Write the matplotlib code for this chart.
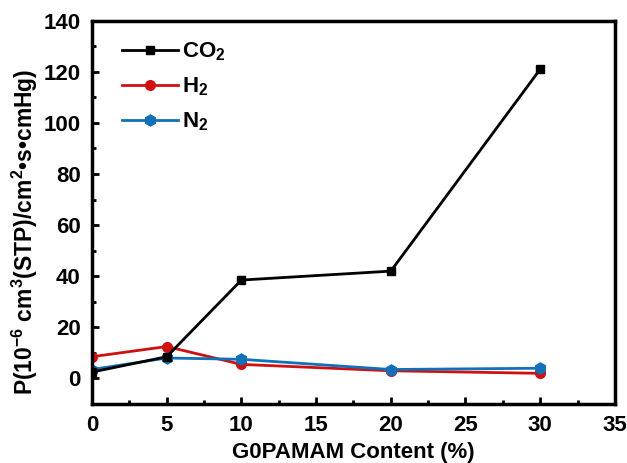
import matplotlib
matplotlib.use('Agg')
import matplotlib.pyplot as plt
from matplotlib.ticker import MultipleLocator

plt.rcParams['font.family'] = ['Liberation Sans', 'DejaVu Sans']
plt.rcParams['font.weight'] = 'bold'
plt.rcParams['mathtext.fontset'] = 'custom'
plt.rcParams['mathtext.rm'] = 'Liberation Sans:bold'
plt.rcParams['mathtext.default'] = 'rm'

# data
content = [0, 5, 10, 20, 30]
co2 = [2.5, 8.5, 38.5, 42, 121]
h2 = [8.5, 12.5, 5.5, 3, 2]
n2 = [3.5, 8, 7.5, 3.5, 4]

fig = plt.figure(figsize=(6.27, 4.63), dpi=100)
ax = fig.add_axes([0.1467, 0.1274, 0.834, 0.828])

ax.plot(content, co2, color='black', marker='s', markersize=6, lw=2, label='CO$_2$', zorder=3)
ax.plot(content, h2, color='#d01010', marker='o', markersize=7, lw=2,
        markerfacecolor='#d01010', markeredgecolor='#d01010', label='H$_2$', zorder=2)
ax.plot(content, n2, color='#1070b8', marker='h', markersize=8, lw=2, label='N$_2$', zorder=2)

ax.set_xlim(0, 35)
ax.set_ylim(-10, 140)
ax.xaxis.set_major_locator(MultipleLocator(5))
ax.xaxis.set_minor_locator(MultipleLocator(2.5))
ax.yaxis.set_major_locator(MultipleLocator(20))
ax.yaxis.set_minor_locator(MultipleLocator(10))
ax.tick_params(which='both', direction='in', width=2, labelsize=16, pad=8)
ax.tick_params(which='major', length=5)
ax.tick_params(which='minor', length=3)
for s in ax.spines.values():
    s.set_linewidth(2.5)

ax.set_xlabel('G0PAMAM Content (%)', fontsize=16, fontweight='bold', labelpad=4)
ax.set_ylabel('P(10$^{-6}$ cm$^3$(STP)/cm$^2$•s•cmHg)', fontsize=16.5, fontweight='bold')
ax.yaxis.set_label_coords(-0.10, 0.45)

leg = ax.legend(loc='upper left', frameon=False, fontsize=16, handlelength=2.5,
                handletextpad=0.2, bbox_to_anchor=(0.02, 1.0), labelspacing=0.55)

fig.savefig('out.png', dpi=100)
